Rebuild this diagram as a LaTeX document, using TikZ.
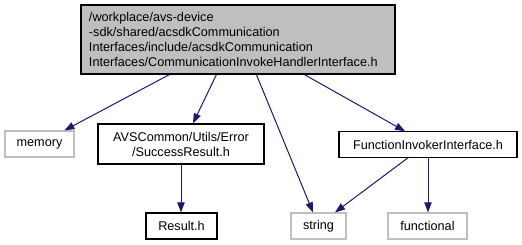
\documentclass[tikz,border=0pt]{standalone}
\usepackage{fontspec}
\setmainfont{Liberation Sans}
\usetikzlibrary{arrows.meta,calc}
\definecolor{edgeblue}{HTML}{191970}
\definecolor{grey75}{HTML}{BFBFBF}
\begin{document}
\begin{tikzpicture}[x=0.75pt,y=-0.75pt,
  every node/.style={font=\fontsize{9.5}{11.25}\selectfont, inner sep=0pt, anchor=center},
  filebox/.style={draw=black, line width=0.9pt, fill=white, align=center},
  sysbox/.style={draw=grey75, line width=0.9pt, fill=white, align=center},
  mainbox/.style={draw=black, line width=0.9pt, fill=grey75, align=left},
  edge/.style={draw=edgeblue, line width=0.75pt,
    -{Triangle[length=7.5pt,width=5.5pt,fill=edgeblue]}}]
\useasboundingbox (0,0) rectangle (522,245);

% header under documentation
\node[mainbox, minimum height=51.75pt, text width=223.5pt, inner xsep=6pt] (top) at (238,39.5)
  {/workplace/avs-device\\-sdk/shared/acsdkCommunication\\Interfaces/include/acsdkCommunication\\Interfaces/CommunicationInvokeHandlerInterface.h};

% direct includes
\node[sysbox, minimum width=51.75pt, minimum height=19.5pt] (memory) at (39.5,144) {memory};
\node[filebox, minimum width=124.5pt, minimum height=30pt] (avs) at (181,144)
  {AVSCommon/Utils/Error\\/SuccessResult.h};
\node[filebox, minimum width=133.5pt, minimum height=19pt] (fii) at (428,144.5)
  {FunctionInvokerInterface.h};

% second level
\node[filebox, minimum width=53.25pt, minimum height=19.5pt] (result) at (181.5,226) {Result.h};
\node[sysbox, minimum width=41.25pt, minimum height=19.5pt] (string) at (318.5,226) {string};
\node[sysbox, minimum width=59.25pt, minimum height=19.5pt] (functional) at (427.5,226) {functional};

% include edges
\draw[edge] ($(top.south west)+(89,0)$) -- ($(memory.north west)+(60,0)$);
\draw[edge] ($(top.south west)+(136,0)$) -- ($(avs.north)+(12,0)$);
\draw[edge] ($(top.south west)+(176,0)$) -- ($(string.north)+(-5.5,0)$);
\draw[edge] ($(top.south west)+(224,0)$) -- ($(fii.north)+(-23,0)$);
\draw[edge] ($(fii.south)+(-20,0)$) -- ($(string.north)+(16.5,0)$);
\draw[edge] (fii.south) -- (fii.south |- functional.north);
\draw[edge] (avs.south) -- (avs.south |- result.north);
\end{tikzpicture}
\end{document}
